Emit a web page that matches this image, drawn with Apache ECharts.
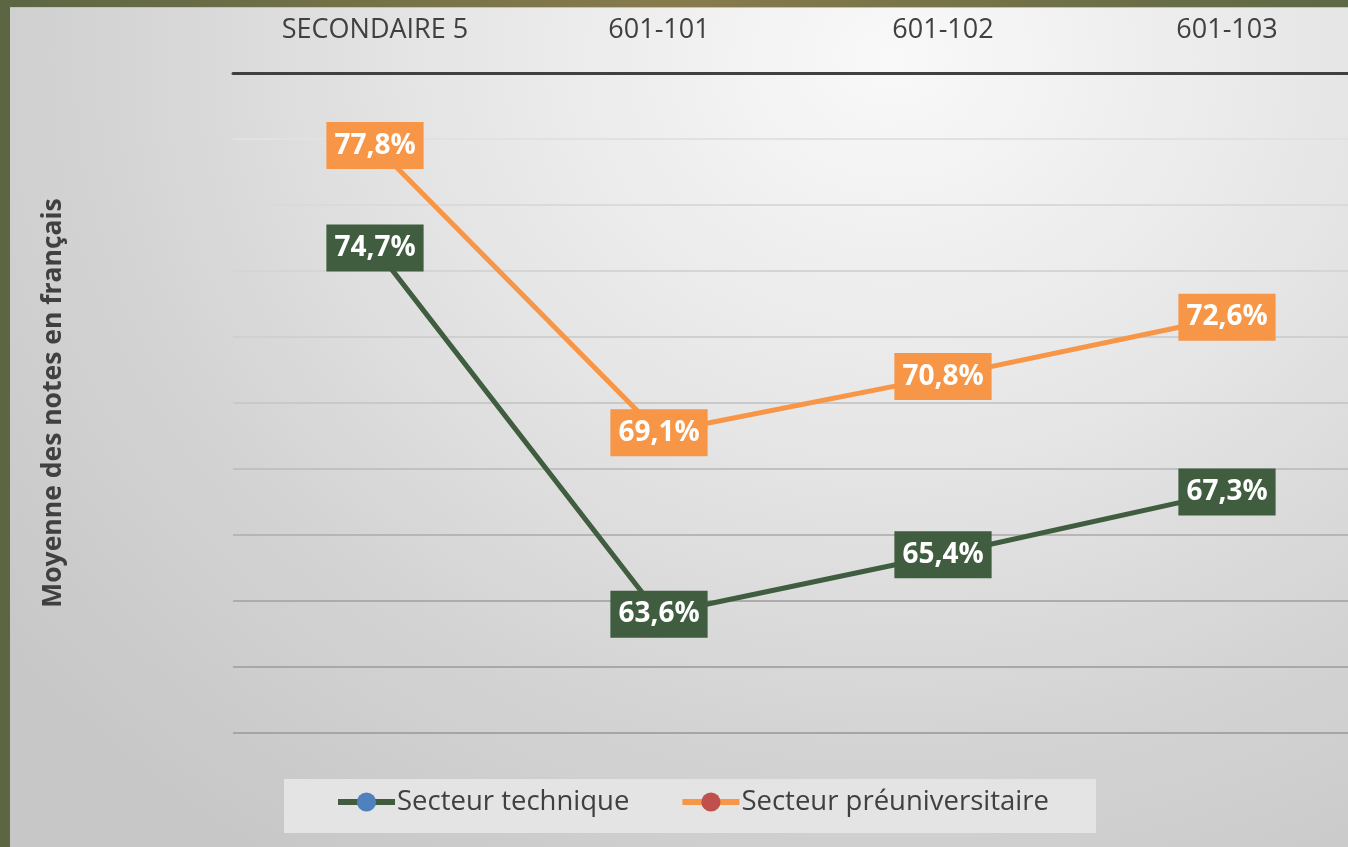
<!DOCTYPE html>
<html>
<head>
<meta charset="utf-8">
<title>Moyenne des notes en français</title>
<script src="https://cdn.jsdelivr.net/npm/echarts@6/dist/echarts.min.js"></script>
<style>
    html, body {
        margin: 0;
        padding: 0;
        width: 1348px;
        height: 847px;
        overflow: hidden;
        position: relative;
        background: linear-gradient(to right, #5c6643 0%, #877b4c 50%, #5d6845 100%);
    }
    #chart {
        position: absolute;
        left: 10px;
        top: 7px;
        /* plus large que la fenêtre : la grille déborde à droite */
        width: 1400px;
        height: 840px;
        border-top: 1px solid #c9c3a8;
        box-sizing: border-box;
        background: radial-gradient(ellipse 80% 115% at 63% 6%, #f9f9f9 0%, #e6e6e6 40%, #d4d4d4 70%, #c7c7c7 100%);
    }
</style>
</head>
<body>
<div id="chart"></div>
<script>
// categories (axe du haut)
var categories = ['SECONDAIRE 5', '601-101', '601-102', '601-103'];
// moyennes en %
var technique = [74.7, 63.6, 65.4, 67.3];
var preuniversitaire = [77.8, 69.1, 70.8, 72.6];
var seriesNames = ['Secteur technique', 'Secteur préuniversitaire'];
var yTitle = 'Moyenne des notes en français';

var fontName = '"Open Sans", Lato, sans-serif';
var textColor = '#404040';
var greenColor = '#405d40';
var orangeColor = '#f79646';

// 77.8 -> "77,8%"
function labelFormat(p) {
    return p.value.toFixed(1).replace('.', ',') + '%';
}

function makeSeries(name, data, lineColor, markerColor) {
    return {
        name: name,
        type: 'line',
        data: data,
        symbol: 'circle',
        symbolSize: 9,
        itemStyle: { color: markerColor },
        lineStyle: { color: lineColor, width: 5 },
        label: {
            show: true,
            position: 'inside',
            formatter: labelFormat,
            color: '#fff',
            fontFamily: fontName,
            fontWeight: 'bold',
            fontSize: 28,
            lineHeight: 30,
            backgroundColor: lineColor,
            padding: [9, 8, 8, 8]
        },
        emphasis: { disabled: true },
        z: 3
    };
}

var myChart = echarts.init(document.getElementById('chart'));
var option = {
    animation: false,
    grid: {
        left: 223,
        right: 41,
        top: 65,
        bottom: 114
    },
    graphic: [{
        // fond de la légende
        type: 'rect',
        left: 274,
        top: 771,
        shape: { width: 812, height: 54 },
        style: { fill: '#e4e4e4' },
        z: 0
    }],
    legend: {
        data: seriesNames,
        left: 325,
        top: 780,
        itemWidth: 57,
        itemHeight: 24,
        itemGap: 50,
        padding: 0,
        lineStyle: { width: 6 },
        textStyle: {
            fontFamily: fontName,
            fontSize: 27.5,
            color: textColor,
            padding: [0, 0, 0, -3]
        }
    },
    xAxis: {
        type: 'category',
        position: 'top',
        data: categories,
        axisLine: { lineStyle: { color: '#404040', width: 3 } },
        axisTick: { show: false },
        axisLabel: {
            fontFamily: fontName,
            fontSize: 27,
            color: textColor,
            margin: 29
        }
    },
    yAxis: {
        type: 'value',
        min: 60,
        max: 80,
        interval: 2,
        name: yTitle,
        nameLocation: 'middle',
        nameRotate: 90,
        nameGap: 166,
        nameTextStyle: {
            fontFamily: fontName,
            fontSize: 26.5,
            fontWeight: 'bold',
            color: textColor
        },
        axisLine: { show: false },
        axisTick: { show: false },
        axisLabel: { show: false },
        splitLine: {
            lineStyle: {
                width: 2,
                // du bas (60) vers le haut (80)
                color: ['#a5a5a5', '#a8a8a8', '#acacac', '#b6b6b6', '#c1c1c1', '#c9c9c9',
                        '#d0d0d0', '#d5d5d5', '#dadada', '#e1e1e1', '#e8e8e8']
            }
        }
    },
    series: [
        makeSeries(seriesNames[0], technique, greenColor, '#4f81bd'),
        makeSeries(seriesNames[1], preuniversitaire, orangeColor, '#c0504d')
    ]
};

myChart.setOption(option);
</script>
</body>
</html>
